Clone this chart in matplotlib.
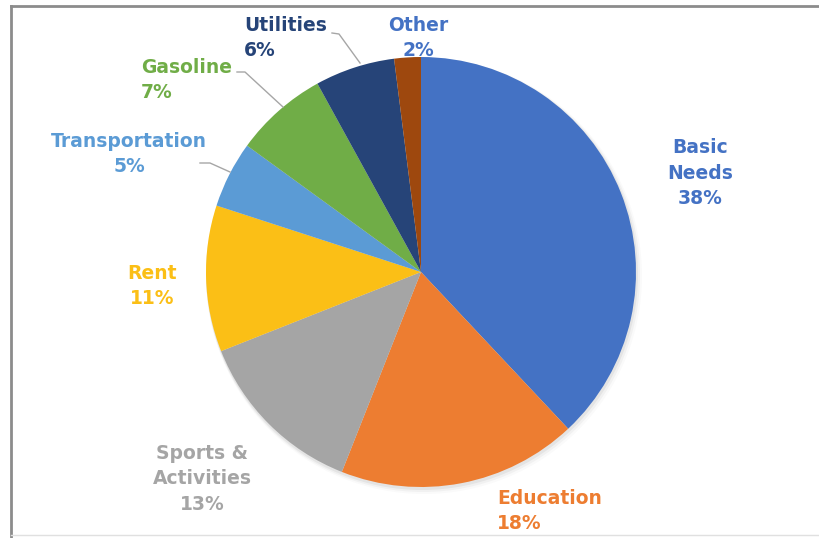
import matplotlib.pyplot as plt
from matplotlib.patches import Circle

# data
categories = ['Basic Needs', 'Education', 'Sports & Activities', 'Rent',
              'Transportation', 'Gasoline', 'Utilities', 'Other']
shares = [38, 18, 13, 11, 5, 7, 6, 2]
wedge_colors = ['#4472C4', '#ED7D31', '#A5A5A5', '#FBBF16',
                '#5B9BD5', '#70AD47', '#264478', '#9E480E']
label_colors = ['#4472C4', '#ED7D31', '#A5A5A5', '#FBBF16',
                '#5B9BD5', '#70AD47', '#264478', '#4472C4']
label_texts = ['Basic\nNeeds', 'Education', 'Sports &\nActivities', 'Rent',
               'Transportation', 'Gasoline', 'Utilities', 'Other']

W, H = 820, 538

def py(y):
    # screen y (from top) -> axes y
    return H - y

fig = plt.figure(figsize=(W / 100, H / 100), dpi=100)
ax = fig.add_axes([0, 0, 1, 1])

cx, cy, r = 421, py(272), 215

# soft shadow behind the pie
for i, a in enumerate([0.10, 0.07, 0.04]):
    ax.add_patch(Circle((cx + 1 + i, cy - 2 - i), r + 1 + i, color='#808080',
                        alpha=a, lw=0, zorder=0))

ax.pie(shares, colors=wedge_colors, startangle=90, counterclock=False,
       center=(cx, cy), radius=r, frame=True,
       wedgeprops=dict(linewidth=0, zorder=2))
ax.set_xlim(0, W)
ax.set_ylim(0, H)
ax.set_aspect('equal')
ax.axis('off')

# label placement (screen px): x, y, ha, multialignment
label_pos = [
    (700, 173, 'center', 'center'),
    (497, 511, 'left', 'left'),
    (202, 479, 'center', 'center'),
    (152, 286, 'center', 'center'),
    (129, 154, 'center', 'center'),
    (141, 80, 'left', 'left'),
    (244, 38, 'left', 'left'),
    (418, 38, 'center', 'center'),
]

for txt, val, col, (x, y, ha, ma) in zip(label_texts, shares, label_colors, label_pos):
    ax.text(x, py(y), f'{txt}\n{val}%', color=col, fontsize=13.5,
            fontweight='bold', family='DejaVu Sans', ha=ha, va='center',
            multialignment=ma, linespacing=1.45, zorder=5)

# leader lines
leaders = [
    [(332, 33), (339, 34), (360, 63)],
    [(237, 72), (245, 72), (283, 107)],
    [(200, 163), (210, 163), (230, 172)],
]
for pts in leaders:
    ax.plot([p[0] for p in pts], [py(p[1]) for p in pts], color='#A6A6A6',
            lw=1, zorder=3)

# chart frame
ax.plot([11, 11], [py(538), py(6)], color='#8c8c8c', lw=2, zorder=1)
ax.plot([11, W], [py(6), py(6)], color='#8c8c8c', lw=2, zorder=1)
ax.plot([11, W], [py(535), py(535)], color='#e0e0e0', lw=1, zorder=1)

fig.savefig('out.png', dpi=100)
